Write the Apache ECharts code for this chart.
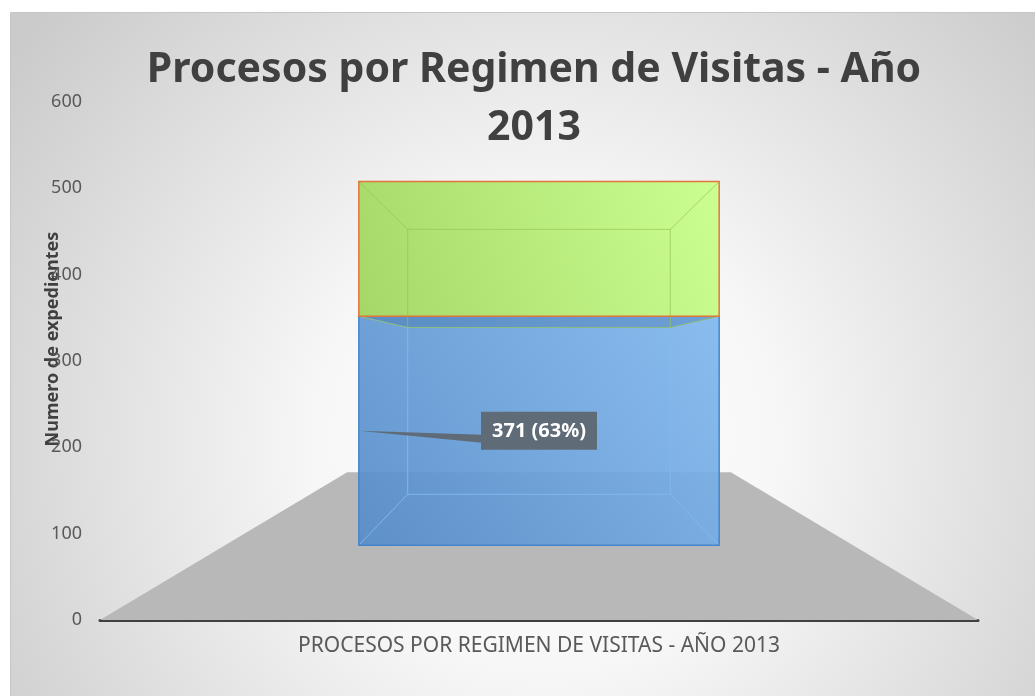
<!DOCTYPE html>
<html>
<head>
<meta charset="utf-8">
<script src="https://cdn.jsdelivr.net/npm/echarts@6/dist/echarts.min.js"></script>
<style>
  html, body { margin: 0; padding: 0; background: #fff; }
  #chart { width: 1035px; height: 696px; }
</style>
</head>
<body>
<div id="chart"></div>
<script>
// datos
const categories = ['PROCESOS POR REGIMEN DE VISITAS - AÑO 2013'];
const serieA = [371];
const serieB = [218];
const yMin = 0;
const yMax = 600;
const yStep = 100;

// camara "3D" (perspectiva tipo Excel)
const VP_VALUE = 304;     // altura del punto de fuga, en unidades del eje
const FRONT = 0.715;      // escala de la cara frontal de la caja
const BACK = 0.521;       // escala de la cara trasera
const FLOOR_BACK = 0.437; // escala del borde trasero del suelo
const BOX_HALF = 0.287;   // media anchura de la caja, fraccion de la banda

const totals = serieA.map((v, i) => v + serieB[i]);

function project(api, cat, off, val, s) {
  const p = api.coord([cat, val]);
  const v = api.coord([cat, VP_VALUE]);
  return [v[0] + off * s, v[1] + (p[1] - v[1]) * s];
}

function renderFloor(params, api) {
  const cat = api.value(0);
  const half = api.size([1, 0])[0] / 2;
  const pts = [
    project(api, cat, -half, 0, 1),
    project(api, cat, half, 0, 1),
    project(api, cat, half, 0, FLOOR_BACK),
    project(api, cat, -half, 0, FLOOR_BACK)
  ];
  return { type: 'polygon', shape: { points: pts }, style: { fill: '#b8b8b8' }, silent: true };
}

function makeBox(look, withLabel) {
  return function (params, api) {
    const cat = api.value(0);
    const lo = api.value(1);
    const hi = api.value(2);
    const hw = api.size([1, 0])[0] * BOX_HALF;
    const f = (o, v) => project(api, cat, o, v, FRONT);
    const b = (o, v) => project(api, cat, o, v, BACK);
    const front = [f(-hw, lo), f(hw, lo), f(hw, hi), f(-hw, hi)];
    const back = [b(-hw, lo), b(hw, lo), b(hw, hi), b(-hw, hi)];
    const kids = [];

    kids.push({
      type: 'polygon', shape: { points: front },
      style: {
        fill: new echarts.graphic.LinearGradient(0, 1, 1, 0, [
          { offset: 0, color: look.c0 },
          { offset: 1, color: look.c1 }
        ])
      }
    });
    if (lo > 0) {
      // cara inferior vista desde abajo
      kids.push({
        type: 'polygon',
        shape: { points: [f(-hw, lo), f(hw, lo), b(hw, lo), b(-hw, lo)] },
        style: { fill: 'rgba(40,90,150,0.28)' }
      });
    }
    kids.push({ type: 'polygon', shape: { points: back }, style: { fill: 'none', stroke: look.inner, lineWidth: 1 } });
    for (let i = 0; i < 4; i++) {
      kids.push({
        type: 'line',
        shape: { x1: front[i][0], y1: front[i][1], x2: back[i][0], y2: back[i][1] },
        style: { stroke: look.inner, lineWidth: 1 }
      });
    }
    kids.push({ type: 'polygon', shape: { points: front }, style: { fill: 'none', stroke: look.edge, lineWidth: 1.5 } });

    if (withLabel) {
      const mid = (lo + hi) / 2;
      const c = f(0, mid);
      const tip = f(-hw, mid);
      const pct = Math.round((hi - lo) / totals[params.dataIndex] * 100);
      const w = 116, h = 38;
      kids.push({
        type: 'polygon',
        shape: { points: [tip, [c[0] - w / 2 + 1, c[1] + 4], [c[0] - w / 2 + 1, c[1] + 12]] },
        style: { fill: '#5f6b77' }
      });
      kids.push({
        type: 'rect',
        shape: { x: c[0] - w / 2, y: c[1] - h / 2, width: w, height: h },
        style: { fill: '#5f6b77' }
      });
      kids.push({
        type: 'text',
        style: {
          text: (hi - lo) + ' (' + pct + '%)',
          x: c[0], y: c[1] + 1,
          align: 'center', verticalAlign: 'middle',
          fill: '#ffffff', fontSize: 20, fontWeight: 'bold', fontFamily: 'Noto Sans'
        }
      });
    }
    return { type: 'group', children: kids };
  };
}

const chart = echarts.init(document.getElementById('chart'));

chart.setOption({
  animation: false,
  graphic: [{
    type: 'rect', z: -10, silent: true,
    shape: { x: 10.5, y: 12.5, width: 1030, height: 690 },
    style: {
      fill: new echarts.graphic.RadialGradient(0.52, 0.62, 0.95, [
        { offset: 0, color: '#ffffff' },
        { offset: 0.35, color: '#f7f7f7' },
        { offset: 1, color: '#cbcbcb' }
      ]),
      stroke: '#c6c6c6', lineWidth: 1
    }
  }],
  title: {
    text: 'Procesos por Regimen de Visitas - Año\n2013',
    left: 529, top: 36,
    textAlign: 'center',
    textStyle: {
      fontFamily: 'Noto Sans', fontWeight: 'bold',
      fontSize: 41, lineHeight: 58, color: '#404040'
    }
  },
  grid: { left: 100, right: 57, top: 102, bottom: 76 },
  xAxis: {
    type: 'category',
    data: categories,
    axisLine: { show: true, lineStyle: { color: '#404040', width: 3 } },
    axisTick: { show: false },
    axisLabel: { color: '#595959', fontSize: 21, fontFamily: 'Noto Sans', margin: 16 },
    splitLine: { show: false }
  },
  yAxis: {
    type: 'value',
    min: yMin, max: yMax, interval: yStep,
    name: 'Numero de expedientes',
    nameLocation: 'middle', nameRotate: 90, nameGap: 38,
    nameMoveOverlap: false,
    nameTextStyle: { color: '#404040', fontSize: 18, fontWeight: 'bold', fontFamily: 'Noto Sans', padding: [0, 0, 0, 44] },
    axisLine: { show: false },
    axisTick: { show: false },
    splitLine: { show: false },
    axisLabel: { color: '#595959', fontSize: 18, fontFamily: 'Noto Sans', margin: 18 }
  },
  series: [
    {
      type: 'custom', name: 'Suelo', z: 1,
      renderItem: renderFloor,
      data: categories.map((c, i) => [i, 0, 0]),
      encode: { x: 0, y: 2 }, silent: true
    },
    {
      type: 'custom', name: 'Serie 1', z: 2,
      renderItem: makeBox({ c0: 'rgba(86,141,201,0.92)', c1: 'rgba(128,183,238,0.92)', inner: 'rgba(132,186,240,0.9)', edge: '#4585cc' }, true),
      data: serieA.map((v, i) => [i, 0, v]),
      encode: { x: 0, y: 2 }
    },
    {
      type: 'custom', name: 'Serie 2', z: 3,
      renderItem: makeBox({ c0: 'rgba(160,214,96,0.95)', c1: 'rgba(202,255,140,0.95)', inner: 'rgba(150,196,80,0.7)', edge: '#e0763a' }, false),
      data: serieB.map((v, i) => [i, serieA[i], serieA[i] + v]),
      encode: { x: 0, y: 2 }
    }
  ]
});
</script>
</body>
</html>
